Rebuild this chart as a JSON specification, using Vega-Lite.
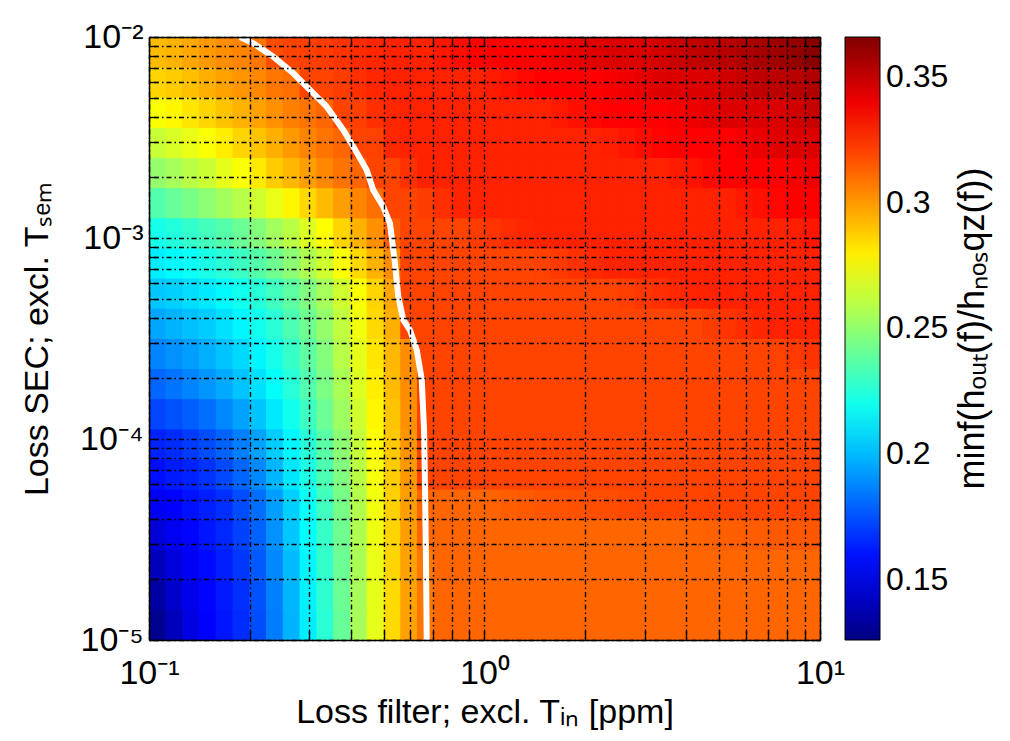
{
"$schema":"https://vega.github.io/schema/vega-lite/v6.json",
"width":671,"height":603,
"autosize":{"type":"none"},
"padding":{"left":149,"top":37,"right":190,"bottom":101},
"background":"white",
"config":{
"font":"Liberation Sans",
"view":{"stroke":null},
"axis":{"labelFont":"Liberation Sans","titleFont":"Liberation Sans","labelFontSize":34,"titleFontSize":34,"titleFontWeight":"normal","labelColor":"black","titleColor":"black","domainColor":"black","domainWidth":1.5,"tickColor":"black","tickWidth":1.3,"gridColor":"black","gridOpacity":1,"labelOverlap":false,"labelFlush":false,"labelBound":false}
},
"layer":[
{
"data":{"values":[
{"x":0.1059,"y":1.189e-5,"v":0.13},{"x":0.1189,"y":1.189e-5,"v":0.14},{"x":0.1334,"y":1.189e-5,"v":0.149},{"x":0.1496,"y":1.189e-5,"v":0.156},{"x":0.1679,"y":1.189e-5,"v":0.161},{"x":0.1884,"y":1.189e-5,"v":0.166},{"x":0.2113,"y":1.189e-5,"v":0.174},{"x":0.2371,"y":1.189e-5,"v":0.185},{"x":0.2661,"y":1.189e-5,"v":0.198},{"x":0.2985,"y":1.189e-5,"v":0.212},{"x":0.335,"y":1.189e-5,"v":0.226},{"x":0.3758,"y":1.189e-5,"v":0.24},{"x":0.4217,"y":1.189e-5,"v":0.255},{"x":0.4732,"y":1.189e-5,"v":0.27},{"x":0.5309,"y":1.189e-5,"v":0.285},{"x":0.5957,"y":1.189e-5,"v":0.298},{"x":0.6683,"y":1.189e-5,"v":0.308},{"x":0.7499,"y":1.189e-5,"v":0.312},{"x":0.8414,"y":1.189e-5,"v":0.312},{"x":0.9441,"y":1.189e-5,"v":0.312},{"x":1.059,"y":1.189e-5,"v":0.312},{"x":1.189,"y":1.189e-5,"v":0.312},{"x":1.334,"y":1.189e-5,"v":0.312},{"x":1.496,"y":1.189e-5,"v":0.312},{"x":1.679,"y":1.189e-5,"v":0.312},{"x":1.884,"y":1.189e-5,"v":0.312},{"x":2.113,"y":1.189e-5,"v":0.312},{"x":2.371,"y":1.189e-5,"v":0.312},{"x":2.661,"y":1.189e-5,"v":0.312},{"x":2.985,"y":1.189e-5,"v":0.312},{"x":3.35,"y":1.189e-5,"v":0.312},{"x":3.758,"y":1.189e-5,"v":0.312},{"x":4.217,"y":1.189e-5,"v":0.312},{"x":4.732,"y":1.189e-5,"v":0.312},{"x":5.309,"y":1.189e-5,"v":0.312},{"x":5.957,"y":1.189e-5,"v":0.312},{"x":6.683,"y":1.189e-5,"v":0.312},{"x":7.499,"y":1.189e-5,"v":0.312},{"x":8.414,"y":1.189e-5,"v":0.312},{"x":9.441,"y":1.189e-5,"v":0.312},
{"x":0.1059,"y":1.679e-5,"v":0.134},{"x":0.1189,"y":1.679e-5,"v":0.144},{"x":0.1334,"y":1.679e-5,"v":0.151},{"x":0.1496,"y":1.679e-5,"v":0.157},{"x":0.1679,"y":1.679e-5,"v":0.162},{"x":0.1884,"y":1.679e-5,"v":0.167},{"x":0.2113,"y":1.679e-5,"v":0.175},{"x":0.2371,"y":1.679e-5,"v":0.186},{"x":0.2661,"y":1.679e-5,"v":0.199},{"x":0.2985,"y":1.679e-5,"v":0.213},{"x":0.335,"y":1.679e-5,"v":0.227},{"x":0.3758,"y":1.679e-5,"v":0.241},{"x":0.4217,"y":1.679e-5,"v":0.255},{"x":0.4732,"y":1.679e-5,"v":0.27},{"x":0.5309,"y":1.679e-5,"v":0.285},{"x":0.5957,"y":1.679e-5,"v":0.298},{"x":0.6683,"y":1.679e-5,"v":0.308},{"x":0.7499,"y":1.679e-5,"v":0.312},{"x":0.8414,"y":1.679e-5,"v":0.312},{"x":0.9441,"y":1.679e-5,"v":0.312},{"x":1.059,"y":1.679e-5,"v":0.312},{"x":1.189,"y":1.679e-5,"v":0.312},{"x":1.334,"y":1.679e-5,"v":0.312},{"x":1.496,"y":1.679e-5,"v":0.312},{"x":1.679,"y":1.679e-5,"v":0.312},{"x":1.884,"y":1.679e-5,"v":0.312},{"x":2.113,"y":1.679e-5,"v":0.312},{"x":2.371,"y":1.679e-5,"v":0.312},{"x":2.661,"y":1.679e-5,"v":0.312},{"x":2.985,"y":1.679e-5,"v":0.312},{"x":3.35,"y":1.679e-5,"v":0.312},{"x":3.758,"y":1.679e-5,"v":0.312},{"x":4.217,"y":1.679e-5,"v":0.312},{"x":4.732,"y":1.679e-5,"v":0.312},{"x":5.309,"y":1.679e-5,"v":0.312},{"x":5.957,"y":1.679e-5,"v":0.312},{"x":6.683,"y":1.679e-5,"v":0.312},{"x":7.499,"y":1.679e-5,"v":0.312},{"x":8.414,"y":1.679e-5,"v":0.312},{"x":9.441,"y":1.679e-5,"v":0.312},
{"x":0.1059,"y":2.371e-5,"v":0.14},{"x":0.1189,"y":2.371e-5,"v":0.148},{"x":0.1334,"y":2.371e-5,"v":0.154},{"x":0.1496,"y":2.371e-5,"v":0.158},{"x":0.1679,"y":2.371e-5,"v":0.163},{"x":0.1884,"y":2.371e-5,"v":0.169},{"x":0.2113,"y":2.371e-5,"v":0.177},{"x":0.2371,"y":2.371e-5,"v":0.188},{"x":0.2661,"y":2.371e-5,"v":0.2},{"x":0.2985,"y":2.371e-5,"v":0.214},{"x":0.335,"y":2.371e-5,"v":0.228},{"x":0.3758,"y":2.371e-5,"v":0.241},{"x":0.4217,"y":2.371e-5,"v":0.256},{"x":0.4732,"y":2.371e-5,"v":0.271},{"x":0.5309,"y":2.371e-5,"v":0.286},{"x":0.5957,"y":2.371e-5,"v":0.298},{"x":0.6683,"y":2.371e-5,"v":0.308},{"x":0.7499,"y":2.371e-5,"v":0.312},{"x":0.8414,"y":2.371e-5,"v":0.312},{"x":0.9441,"y":2.371e-5,"v":0.312},{"x":1.059,"y":2.371e-5,"v":0.312},{"x":1.189,"y":2.371e-5,"v":0.312},{"x":1.334,"y":2.371e-5,"v":0.312},{"x":1.496,"y":2.371e-5,"v":0.312},{"x":1.679,"y":2.371e-5,"v":0.312},{"x":1.884,"y":2.371e-5,"v":0.312},{"x":2.113,"y":2.371e-5,"v":0.312},{"x":2.371,"y":2.371e-5,"v":0.312},{"x":2.661,"y":2.371e-5,"v":0.312},{"x":2.985,"y":2.371e-5,"v":0.312},{"x":3.35,"y":2.371e-5,"v":0.312},{"x":3.758,"y":2.371e-5,"v":0.312},{"x":4.217,"y":2.371e-5,"v":0.312},{"x":4.732,"y":2.371e-5,"v":0.312},{"x":5.309,"y":2.371e-5,"v":0.312},{"x":5.957,"y":2.371e-5,"v":0.312},{"x":6.683,"y":2.371e-5,"v":0.312},{"x":7.499,"y":2.371e-5,"v":0.312},{"x":8.414,"y":2.371e-5,"v":0.312},{"x":9.441,"y":2.371e-5,"v":0.312},
{"x":0.1059,"y":3.35e-5,"v":0.147},{"x":0.1189,"y":3.35e-5,"v":0.153},{"x":0.1334,"y":3.35e-5,"v":0.157},{"x":0.1496,"y":3.35e-5,"v":0.161},{"x":0.1679,"y":3.35e-5,"v":0.165},{"x":0.1884,"y":3.35e-5,"v":0.171},{"x":0.2113,"y":3.35e-5,"v":0.179},{"x":0.2371,"y":3.35e-5,"v":0.19},{"x":0.2661,"y":3.35e-5,"v":0.203},{"x":0.2985,"y":3.35e-5,"v":0.216},{"x":0.335,"y":3.35e-5,"v":0.229},{"x":0.3758,"y":3.35e-5,"v":0.242},{"x":0.4217,"y":3.35e-5,"v":0.257},{"x":0.4732,"y":3.35e-5,"v":0.272},{"x":0.5309,"y":3.35e-5,"v":0.286},{"x":0.5957,"y":3.35e-5,"v":0.299},{"x":0.6683,"y":3.35e-5,"v":0.312},{"x":0.7499,"y":3.35e-5,"v":0.312},{"x":0.8414,"y":3.35e-5,"v":0.312},{"x":0.9441,"y":3.35e-5,"v":0.312},{"x":1.059,"y":3.35e-5,"v":0.312},{"x":1.189,"y":3.35e-5,"v":0.312},{"x":1.334,"y":3.35e-5,"v":0.312},{"x":1.496,"y":3.35e-5,"v":0.312},{"x":1.679,"y":3.35e-5,"v":0.312},{"x":1.884,"y":3.35e-5,"v":0.312},{"x":2.113,"y":3.35e-5,"v":0.312},{"x":2.371,"y":3.35e-5,"v":0.312},{"x":2.661,"y":3.35e-5,"v":0.312},{"x":2.985,"y":3.35e-5,"v":0.312},{"x":3.35,"y":3.35e-5,"v":0.312},{"x":3.758,"y":3.35e-5,"v":0.3124},{"x":4.217,"y":3.35e-5,"v":0.3128},{"x":4.732,"y":3.35e-5,"v":0.3132},{"x":5.309,"y":3.35e-5,"v":0.3137},{"x":5.957,"y":3.35e-5,"v":0.3141},{"x":6.683,"y":3.35e-5,"v":0.3145},{"x":7.499,"y":3.35e-5,"v":0.3151},{"x":8.414,"y":3.35e-5,"v":0.3153},{"x":9.441,"y":3.35e-5,"v":0.3159},
{"x":0.1059,"y":4.732e-5,"v":0.153},{"x":0.1189,"y":4.732e-5,"v":0.156},{"x":0.1334,"y":4.732e-5,"v":0.16},{"x":0.1496,"y":4.732e-5,"v":0.163},{"x":0.1679,"y":4.732e-5,"v":0.167},{"x":0.1884,"y":4.732e-5,"v":0.174},{"x":0.2113,"y":4.732e-5,"v":0.182},{"x":0.2371,"y":4.732e-5,"v":0.193},{"x":0.2661,"y":4.732e-5,"v":0.205},{"x":0.2985,"y":4.732e-5,"v":0.218},{"x":0.335,"y":4.732e-5,"v":0.231},{"x":0.3758,"y":4.732e-5,"v":0.244},{"x":0.4217,"y":4.732e-5,"v":0.258},{"x":0.4732,"y":4.732e-5,"v":0.273},{"x":0.5309,"y":4.732e-5,"v":0.287},{"x":0.5957,"y":4.732e-5,"v":0.299},{"x":0.6683,"y":4.732e-5,"v":0.312},{"x":0.7499,"y":4.732e-5,"v":0.312},{"x":0.8414,"y":4.732e-5,"v":0.312},{"x":0.9441,"y":4.732e-5,"v":0.312},{"x":1.059,"y":4.732e-5,"v":0.313},{"x":1.189,"y":4.732e-5,"v":0.314},{"x":1.334,"y":4.732e-5,"v":0.315},{"x":1.496,"y":4.732e-5,"v":0.316},{"x":1.679,"y":4.732e-5,"v":0.3165},{"x":1.884,"y":4.732e-5,"v":0.317},{"x":2.113,"y":4.732e-5,"v":0.3177},{"x":2.371,"y":4.732e-5,"v":0.318},{"x":2.661,"y":4.732e-5,"v":0.319},{"x":2.985,"y":4.732e-5,"v":0.3194},{"x":3.35,"y":4.732e-5,"v":0.32},{"x":3.758,"y":4.732e-5,"v":0.32},{"x":4.217,"y":4.732e-5,"v":0.32},{"x":4.732,"y":4.732e-5,"v":0.32},{"x":5.309,"y":4.732e-5,"v":0.32},{"x":5.957,"y":4.732e-5,"v":0.32},{"x":6.683,"y":4.732e-5,"v":0.32},{"x":7.499,"y":4.732e-5,"v":0.32},{"x":8.414,"y":4.732e-5,"v":0.32},{"x":9.441,"y":4.732e-5,"v":0.32},
{"x":0.1059,"y":6.683e-5,"v":0.159},{"x":0.1189,"y":6.683e-5,"v":0.162},{"x":0.1334,"y":6.683e-5,"v":0.164},{"x":0.1496,"y":6.683e-5,"v":0.168},{"x":0.1679,"y":6.683e-5,"v":0.173},{"x":0.1884,"y":6.683e-5,"v":0.18},{"x":0.2113,"y":6.683e-5,"v":0.188},{"x":0.2371,"y":6.683e-5,"v":0.199},{"x":0.2661,"y":6.683e-5,"v":0.21},{"x":0.2985,"y":6.683e-5,"v":0.222},{"x":0.335,"y":6.683e-5,"v":0.234},{"x":0.3758,"y":6.683e-5,"v":0.246},{"x":0.4217,"y":6.683e-5,"v":0.26},{"x":0.4732,"y":6.683e-5,"v":0.274},{"x":0.5309,"y":6.683e-5,"v":0.288},{"x":0.5957,"y":6.683e-5,"v":0.3},{"x":0.6683,"y":6.683e-5,"v":0.32},{"x":0.7499,"y":6.683e-5,"v":0.32},{"x":0.8414,"y":6.683e-5,"v":0.32},{"x":0.9441,"y":6.683e-5,"v":0.32},{"x":1.059,"y":6.683e-5,"v":0.32},{"x":1.189,"y":6.683e-5,"v":0.32},{"x":1.334,"y":6.683e-5,"v":0.32},{"x":1.496,"y":6.683e-5,"v":0.32},{"x":1.679,"y":6.683e-5,"v":0.32},{"x":1.884,"y":6.683e-5,"v":0.32},{"x":2.113,"y":6.683e-5,"v":0.32},{"x":2.371,"y":6.683e-5,"v":0.32},{"x":2.661,"y":6.683e-5,"v":0.32},{"x":2.985,"y":6.683e-5,"v":0.32},{"x":3.35,"y":6.683e-5,"v":0.32},{"x":3.758,"y":6.683e-5,"v":0.32},{"x":4.217,"y":6.683e-5,"v":0.32},{"x":4.732,"y":6.683e-5,"v":0.32},{"x":5.309,"y":6.683e-5,"v":0.32},{"x":5.957,"y":6.683e-5,"v":0.32},{"x":6.683,"y":6.683e-5,"v":0.32},{"x":7.499,"y":6.683e-5,"v":0.32},{"x":8.414,"y":6.683e-5,"v":0.32},{"x":9.441,"y":6.683e-5,"v":0.32},
{"x":0.1059,"y":9.441e-5,"v":0.164},{"x":0.1189,"y":9.441e-5,"v":0.166},{"x":0.1334,"y":9.441e-5,"v":0.17},{"x":0.1496,"y":9.441e-5,"v":0.174},{"x":0.1679,"y":9.441e-5,"v":0.179},{"x":0.1884,"y":9.441e-5,"v":0.186},{"x":0.2113,"y":9.441e-5,"v":0.194},{"x":0.2371,"y":9.441e-5,"v":0.204},{"x":0.2661,"y":9.441e-5,"v":0.214},{"x":0.2985,"y":9.441e-5,"v":0.225},{"x":0.335,"y":9.441e-5,"v":0.237},{"x":0.3758,"y":9.441e-5,"v":0.249},{"x":0.4217,"y":9.441e-5,"v":0.262},{"x":0.4732,"y":9.441e-5,"v":0.276},{"x":0.5309,"y":9.441e-5,"v":0.289},{"x":0.5957,"y":9.441e-5,"v":0.301},{"x":0.6683,"y":9.441e-5,"v":0.32},{"x":0.7499,"y":9.441e-5,"v":0.32},{"x":0.8414,"y":9.441e-5,"v":0.32},{"x":0.9441,"y":9.441e-5,"v":0.32},{"x":1.059,"y":9.441e-5,"v":0.32},{"x":1.189,"y":9.441e-5,"v":0.32},{"x":1.334,"y":9.441e-5,"v":0.32},{"x":1.496,"y":9.441e-5,"v":0.32},{"x":1.679,"y":9.441e-5,"v":0.32},{"x":1.884,"y":9.441e-5,"v":0.32},{"x":2.113,"y":9.441e-5,"v":0.32},{"x":2.371,"y":9.441e-5,"v":0.32},{"x":2.661,"y":9.441e-5,"v":0.32},{"x":2.985,"y":9.441e-5,"v":0.32},{"x":3.35,"y":9.441e-5,"v":0.32},{"x":3.758,"y":9.441e-5,"v":0.32},{"x":4.217,"y":9.441e-5,"v":0.32},{"x":4.732,"y":9.441e-5,"v":0.32},{"x":5.309,"y":9.441e-5,"v":0.32},{"x":5.957,"y":9.441e-5,"v":0.32},{"x":6.683,"y":9.441e-5,"v":0.32},{"x":7.499,"y":9.441e-5,"v":0.32},{"x":8.414,"y":9.441e-5,"v":0.32},{"x":9.441,"y":9.441e-5,"v":0.32},
{"x":0.1059,"y":0.0001334,"v":0.172},{"x":0.1189,"y":0.0001334,"v":0.175},{"x":0.1334,"y":0.0001334,"v":0.178},{"x":0.1496,"y":0.0001334,"v":0.182},{"x":0.1679,"y":0.0001334,"v":0.188},{"x":0.1884,"y":0.0001334,"v":0.194},{"x":0.2113,"y":0.0001334,"v":0.202},{"x":0.2371,"y":0.0001334,"v":0.211},{"x":0.2661,"y":0.0001334,"v":0.22},{"x":0.2985,"y":0.0001334,"v":0.23},{"x":0.335,"y":0.0001334,"v":0.241},{"x":0.3758,"y":0.0001334,"v":0.253},{"x":0.4217,"y":0.0001334,"v":0.265},{"x":0.4732,"y":0.0001334,"v":0.278},{"x":0.5309,"y":0.0001334,"v":0.29},{"x":0.5957,"y":0.0001334,"v":0.302},{"x":0.6683,"y":0.0001334,"v":0.32},{"x":0.7499,"y":0.0001334,"v":0.32},{"x":0.8414,"y":0.0001334,"v":0.32},{"x":0.9441,"y":0.0001334,"v":0.32},{"x":1.059,"y":0.0001334,"v":0.32},{"x":1.189,"y":0.0001334,"v":0.32},{"x":1.334,"y":0.0001334,"v":0.32},{"x":1.496,"y":0.0001334,"v":0.32},{"x":1.679,"y":0.0001334,"v":0.32},{"x":1.884,"y":0.0001334,"v":0.32},{"x":2.113,"y":0.0001334,"v":0.32},{"x":2.371,"y":0.0001334,"v":0.32},{"x":2.661,"y":0.0001334,"v":0.32},{"x":2.985,"y":0.0001334,"v":0.32},{"x":3.35,"y":0.0001334,"v":0.32},{"x":3.758,"y":0.0001334,"v":0.32},{"x":4.217,"y":0.0001334,"v":0.32},{"x":4.732,"y":0.0001334,"v":0.32},{"x":5.309,"y":0.0001334,"v":0.32},{"x":5.957,"y":0.0001334,"v":0.32},{"x":6.683,"y":0.0001334,"v":0.32},{"x":7.499,"y":0.0001334,"v":0.32},{"x":8.414,"y":0.0001334,"v":0.32},{"x":9.441,"y":0.0001334,"v":0.32},
{"x":0.1059,"y":0.0001884,"v":0.18},{"x":0.1189,"y":0.0001884,"v":0.183},{"x":0.1334,"y":0.0001884,"v":0.187},{"x":0.1496,"y":0.0001884,"v":0.191},{"x":0.1679,"y":0.0001884,"v":0.196},{"x":0.1884,"y":0.0001884,"v":0.202},{"x":0.2113,"y":0.0001884,"v":0.209},{"x":0.2371,"y":0.0001884,"v":0.217},{"x":0.2661,"y":0.0001884,"v":0.225},{"x":0.2985,"y":0.0001884,"v":0.235},{"x":0.335,"y":0.0001884,"v":0.245},{"x":0.3758,"y":0.0001884,"v":0.256},{"x":0.4217,"y":0.0001884,"v":0.268},{"x":0.4732,"y":0.0001884,"v":0.28},{"x":0.5309,"y":0.0001884,"v":0.292},{"x":0.5957,"y":0.0001884,"v":0.303},{"x":0.6683,"y":0.0001884,"v":0.32},{"x":0.7499,"y":0.0001884,"v":0.32},{"x":0.8414,"y":0.0001884,"v":0.32},{"x":0.9441,"y":0.0001884,"v":0.32},{"x":1.059,"y":0.0001884,"v":0.32},{"x":1.189,"y":0.0001884,"v":0.32},{"x":1.334,"y":0.0001884,"v":0.32},{"x":1.496,"y":0.0001884,"v":0.32},{"x":1.679,"y":0.0001884,"v":0.32},{"x":1.884,"y":0.0001884,"v":0.32},{"x":2.113,"y":0.0001884,"v":0.32},{"x":2.371,"y":0.0001884,"v":0.32},{"x":2.661,"y":0.0001884,"v":0.32},{"x":2.985,"y":0.0001884,"v":0.32},{"x":3.35,"y":0.0001884,"v":0.32},{"x":3.758,"y":0.0001884,"v":0.32},{"x":4.217,"y":0.0001884,"v":0.32},{"x":4.732,"y":0.0001884,"v":0.32},{"x":5.309,"y":0.0001884,"v":0.32},{"x":5.957,"y":0.0001884,"v":0.32},{"x":6.683,"y":0.0001884,"v":0.32},{"x":7.499,"y":0.0001884,"v":0.32},{"x":8.414,"y":0.0001884,"v":0.32},{"x":9.441,"y":0.0001884,"v":0.32},
{"x":0.1059,"y":0.0002661,"v":0.187},{"x":0.1189,"y":0.0002661,"v":0.19},{"x":0.1334,"y":0.0002661,"v":0.193},{"x":0.1496,"y":0.0002661,"v":0.197},{"x":0.1679,"y":0.0002661,"v":0.202},{"x":0.1884,"y":0.0002661,"v":0.207},{"x":0.2113,"y":0.0002661,"v":0.214},{"x":0.2371,"y":0.0002661,"v":0.221},{"x":0.2661,"y":0.0002661,"v":0.229},{"x":0.2985,"y":0.0002661,"v":0.238},{"x":0.335,"y":0.0002661,"v":0.247},{"x":0.3758,"y":0.0002661,"v":0.259},{"x":0.4217,"y":0.0002661,"v":0.27},{"x":0.4732,"y":0.0002661,"v":0.282},{"x":0.5309,"y":0.0002661,"v":0.293},{"x":0.5957,"y":0.0002661,"v":0.303},{"x":0.6683,"y":0.0002661,"v":0.32},{"x":0.7499,"y":0.0002661,"v":0.32},{"x":0.8414,"y":0.0002661,"v":0.32},{"x":0.9441,"y":0.0002661,"v":0.32},{"x":1.059,"y":0.0002661,"v":0.32},{"x":1.189,"y":0.0002661,"v":0.32},{"x":1.334,"y":0.0002661,"v":0.32},{"x":1.496,"y":0.0002661,"v":0.32},{"x":1.679,"y":0.0002661,"v":0.32},{"x":1.884,"y":0.0002661,"v":0.32},{"x":2.113,"y":0.0002661,"v":0.32},{"x":2.371,"y":0.0002661,"v":0.32},{"x":2.661,"y":0.0002661,"v":0.32},{"x":2.985,"y":0.0002661,"v":0.32},{"x":3.35,"y":0.0002661,"v":0.32},{"x":3.758,"y":0.0002661,"v":0.32},{"x":4.217,"y":0.0002661,"v":0.32},{"x":4.732,"y":0.0002661,"v":0.32},{"x":5.309,"y":0.0002661,"v":0.32},{"x":5.957,"y":0.0002661,"v":0.32},{"x":6.683,"y":0.0002661,"v":0.32},{"x":7.499,"y":0.0002661,"v":0.3208},{"x":8.414,"y":0.0002661,"v":0.3224},{"x":9.441,"y":0.0002661,"v":0.3241},
{"x":0.1059,"y":0.0003758,"v":0.195},{"x":0.1189,"y":0.0003758,"v":0.198},{"x":0.1334,"y":0.0003758,"v":0.201},{"x":0.1496,"y":0.0003758,"v":0.204},{"x":0.1679,"y":0.0003758,"v":0.209},{"x":0.1884,"y":0.0003758,"v":0.214},{"x":0.2113,"y":0.0003758,"v":0.22},{"x":0.2371,"y":0.0003758,"v":0.226},{"x":0.2661,"y":0.0003758,"v":0.234},{"x":0.2985,"y":0.0003758,"v":0.242},{"x":0.335,"y":0.0003758,"v":0.251},{"x":0.3758,"y":0.0003758,"v":0.261},{"x":0.4217,"y":0.0003758,"v":0.273},{"x":0.4732,"y":0.0003758,"v":0.285},{"x":0.5309,"y":0.0003758,"v":0.295},{"x":0.5957,"y":0.0003758,"v":0.32},{"x":0.6683,"y":0.0003758,"v":0.32},{"x":0.7499,"y":0.0003758,"v":0.32},{"x":0.8414,"y":0.0003758,"v":0.32},{"x":0.9441,"y":0.0003758,"v":0.32},{"x":1.059,"y":0.0003758,"v":0.32},{"x":1.189,"y":0.0003758,"v":0.32},{"x":1.334,"y":0.0003758,"v":0.32},{"x":1.496,"y":0.0003758,"v":0.32},{"x":1.679,"y":0.0003758,"v":0.32},{"x":1.884,"y":0.0003758,"v":0.32},{"x":2.113,"y":0.0003758,"v":0.32},{"x":2.371,"y":0.0003758,"v":0.32},{"x":2.661,"y":0.0003758,"v":0.32},{"x":2.985,"y":0.0003758,"v":0.32},{"x":3.35,"y":0.0003758,"v":0.32},{"x":3.758,"y":0.0003758,"v":0.32},{"x":4.217,"y":0.0003758,"v":0.3204},{"x":4.732,"y":0.0003758,"v":0.322},{"x":5.309,"y":0.0003758,"v":0.3238},{"x":5.957,"y":0.0003758,"v":0.3255},{"x":6.683,"y":0.0003758,"v":0.3271},{"x":7.499,"y":0.0003758,"v":0.328},{"x":8.414,"y":0.0003758,"v":0.328},{"x":9.441,"y":0.0003758,"v":0.328},
{"x":0.1059,"y":0.0005309,"v":0.203},{"x":0.1189,"y":0.0005309,"v":0.205},{"x":0.1334,"y":0.0005309,"v":0.208},{"x":0.1496,"y":0.0005309,"v":0.211},{"x":0.1679,"y":0.0005309,"v":0.215},{"x":0.1884,"y":0.0005309,"v":0.22},{"x":0.2113,"y":0.0005309,"v":0.225},{"x":0.2371,"y":0.0005309,"v":0.231},{"x":0.2661,"y":0.0005309,"v":0.238},{"x":0.2985,"y":0.0005309,"v":0.246},{"x":0.335,"y":0.0005309,"v":0.255},{"x":0.3758,"y":0.0005309,"v":0.265},{"x":0.4217,"y":0.0005309,"v":0.275},{"x":0.4732,"y":0.0005309,"v":0.286},{"x":0.5309,"y":0.0005309,"v":0.297},{"x":0.5957,"y":0.0005309,"v":0.32},{"x":0.6683,"y":0.0005309,"v":0.32},{"x":0.7499,"y":0.0005309,"v":0.32},{"x":0.8414,"y":0.0005309,"v":0.32},{"x":0.9441,"y":0.0005309,"v":0.32},{"x":1.059,"y":0.0005309,"v":0.32},{"x":1.189,"y":0.0005309,"v":0.32},{"x":1.334,"y":0.0005309,"v":0.32},{"x":1.496,"y":0.0005309,"v":0.32},{"x":1.679,"y":0.0005309,"v":0.32},{"x":1.884,"y":0.0005309,"v":0.32},{"x":2.113,"y":0.0005309,"v":0.32},{"x":2.371,"y":0.0005309,"v":0.32},{"x":2.661,"y":0.0005309,"v":0.3215},{"x":2.985,"y":0.0005309,"v":0.3233},{"x":3.35,"y":0.0005309,"v":0.325},{"x":3.758,"y":0.0005309,"v":0.3267},{"x":4.217,"y":0.0005309,"v":0.328},{"x":4.732,"y":0.0005309,"v":0.328},{"x":5.309,"y":0.0005309,"v":0.328},{"x":5.957,"y":0.0005309,"v":0.328},{"x":6.683,"y":0.0005309,"v":0.328},{"x":7.499,"y":0.0005309,"v":0.328},{"x":8.414,"y":0.0005309,"v":0.328},{"x":9.441,"y":0.0005309,"v":0.328},
{"x":0.1059,"y":0.0007499,"v":0.212},{"x":0.1189,"y":0.0007499,"v":0.215},{"x":0.1334,"y":0.0007499,"v":0.218},{"x":0.1496,"y":0.0007499,"v":0.222},{"x":0.1679,"y":0.0007499,"v":0.226},{"x":0.1884,"y":0.0007499,"v":0.23},{"x":0.2113,"y":0.0007499,"v":0.236},{"x":0.2371,"y":0.0007499,"v":0.242},{"x":0.2661,"y":0.0007499,"v":0.249},{"x":0.2985,"y":0.0007499,"v":0.257},{"x":0.335,"y":0.0007499,"v":0.265},{"x":0.3758,"y":0.0007499,"v":0.275},{"x":0.4217,"y":0.0007499,"v":0.285},{"x":0.4732,"y":0.0007499,"v":0.294},{"x":0.5309,"y":0.0007499,"v":0.303},{"x":0.5957,"y":0.0007499,"v":0.32},{"x":0.6683,"y":0.0007499,"v":0.32},{"x":0.7499,"y":0.0007499,"v":0.32},{"x":0.8414,"y":0.0007499,"v":0.32},{"x":0.9441,"y":0.0007499,"v":0.32},{"x":1.059,"y":0.0007499,"v":0.32},{"x":1.189,"y":0.0007499,"v":0.32},{"x":1.334,"y":0.0007499,"v":0.32},{"x":1.496,"y":0.0007499,"v":0.3209},{"x":1.679,"y":0.0007499,"v":0.3226},{"x":1.884,"y":0.0007499,"v":0.3244},{"x":2.113,"y":0.0007499,"v":0.3261},{"x":2.371,"y":0.0007499,"v":0.3278},{"x":2.661,"y":0.0007499,"v":0.328},{"x":2.985,"y":0.0007499,"v":0.328},{"x":3.35,"y":0.0007499,"v":0.328},{"x":3.758,"y":0.0007499,"v":0.328},{"x":4.217,"y":0.0007499,"v":0.328},{"x":4.732,"y":0.0007499,"v":0.328},{"x":5.309,"y":0.0007499,"v":0.328},{"x":5.957,"y":0.0007499,"v":0.328},{"x":6.683,"y":0.0007499,"v":0.328},{"x":7.499,"y":0.0007499,"v":0.328},{"x":8.414,"y":0.0007499,"v":0.328},{"x":9.441,"y":0.0007499,"v":0.328},
{"x":0.1059,"y":0.001059,"v":0.221},{"x":0.1189,"y":0.001059,"v":0.224},{"x":0.1334,"y":0.001059,"v":0.228},{"x":0.1496,"y":0.001059,"v":0.232},{"x":0.1679,"y":0.001059,"v":0.236},{"x":0.1884,"y":0.001059,"v":0.241},{"x":0.2113,"y":0.001059,"v":0.247},{"x":0.2371,"y":0.001059,"v":0.254},{"x":0.2661,"y":0.001059,"v":0.26},{"x":0.2985,"y":0.001059,"v":0.268},{"x":0.335,"y":0.001059,"v":0.276},{"x":0.3758,"y":0.001059,"v":0.286},{"x":0.4217,"y":0.001059,"v":0.294},{"x":0.4732,"y":0.001059,"v":0.302},{"x":0.5309,"y":0.001059,"v":0.314},{"x":0.5957,"y":0.001059,"v":0.32},{"x":0.6683,"y":0.001059,"v":0.32},{"x":0.7499,"y":0.001059,"v":0.32},{"x":0.8414,"y":0.001059,"v":0.32},{"x":0.9441,"y":0.001059,"v":0.3219},{"x":1.059,"y":0.001059,"v":0.3237},{"x":1.189,"y":0.001059,"v":0.3256},{"x":1.334,"y":0.001059,"v":0.3272},{"x":1.496,"y":0.001059,"v":0.328},{"x":1.679,"y":0.001059,"v":0.328},{"x":1.884,"y":0.001059,"v":0.328},{"x":2.113,"y":0.001059,"v":0.328},{"x":2.371,"y":0.001059,"v":0.328},{"x":2.661,"y":0.001059,"v":0.328},{"x":2.985,"y":0.001059,"v":0.328},{"x":3.35,"y":0.001059,"v":0.328},{"x":3.758,"y":0.001059,"v":0.328},{"x":4.217,"y":0.001059,"v":0.328},{"x":4.732,"y":0.001059,"v":0.328},{"x":5.309,"y":0.001059,"v":0.328},{"x":5.957,"y":0.001059,"v":0.328},{"x":6.683,"y":0.001059,"v":0.328},{"x":7.499,"y":0.001059,"v":0.328},{"x":8.414,"y":0.001059,"v":0.3288},{"x":9.441,"y":0.001059,"v":0.331},
{"x":0.1059,"y":0.001496,"v":0.235},{"x":0.1189,"y":0.001496,"v":0.24},{"x":0.1334,"y":0.001496,"v":0.244},{"x":0.1496,"y":0.001496,"v":0.249},{"x":0.1679,"y":0.001496,"v":0.254},{"x":0.1884,"y":0.001496,"v":0.259},{"x":0.2113,"y":0.001496,"v":0.265},{"x":0.2371,"y":0.001496,"v":0.271},{"x":0.2661,"y":0.001496,"v":0.278},{"x":0.2985,"y":0.001496,"v":0.285},{"x":0.335,"y":0.001496,"v":0.292},{"x":0.3758,"y":0.001496,"v":0.299},{"x":0.4217,"y":0.001496,"v":0.305},{"x":0.4732,"y":0.001496,"v":0.31},{"x":0.5309,"y":0.001496,"v":0.32},{"x":0.5957,"y":0.001496,"v":0.32},{"x":0.6683,"y":0.001496,"v":0.3219},{"x":0.7499,"y":0.001496,"v":0.3251},{"x":0.8414,"y":0.001496,"v":0.3275},{"x":0.9441,"y":0.001496,"v":0.328},{"x":1.059,"y":0.001496,"v":0.328},{"x":1.189,"y":0.001496,"v":0.328},{"x":1.334,"y":0.001496,"v":0.328},{"x":1.496,"y":0.001496,"v":0.328},{"x":1.679,"y":0.001496,"v":0.328},{"x":1.884,"y":0.001496,"v":0.328},{"x":2.113,"y":0.001496,"v":0.328},{"x":2.371,"y":0.001496,"v":0.328},{"x":2.661,"y":0.001496,"v":0.328},{"x":2.985,"y":0.001496,"v":0.328},{"x":3.35,"y":0.001496,"v":0.328},{"x":3.758,"y":0.001496,"v":0.328},{"x":4.217,"y":0.001496,"v":0.328},{"x":4.732,"y":0.001496,"v":0.328},{"x":5.309,"y":0.001496,"v":0.328},{"x":5.957,"y":0.001496,"v":0.3303},{"x":6.683,"y":0.001496,"v":0.3325},{"x":7.499,"y":0.001496,"v":0.3347},{"x":8.414,"y":0.001496,"v":0.336},{"x":9.441,"y":0.001496,"v":0.336},
{"x":0.1059,"y":0.002113,"v":0.251},{"x":0.1189,"y":0.002113,"v":0.255},{"x":0.1334,"y":0.002113,"v":0.26},{"x":0.1496,"y":0.002113,"v":0.264},{"x":0.1679,"y":0.002113,"v":0.27},{"x":0.1884,"y":0.002113,"v":0.275},{"x":0.2113,"y":0.002113,"v":0.281},{"x":0.2371,"y":0.002113,"v":0.288},{"x":0.2661,"y":0.002113,"v":0.293},{"x":0.2985,"y":0.002113,"v":0.299},{"x":0.335,"y":0.002113,"v":0.304},{"x":0.3758,"y":0.002113,"v":0.309},{"x":0.4217,"y":0.002113,"v":0.312},{"x":0.4732,"y":0.002113,"v":0.32},{"x":0.5309,"y":0.002113,"v":0.32},{"x":0.5957,"y":0.002113,"v":0.3244},{"x":0.6683,"y":0.002113,"v":0.328},{"x":0.7499,"y":0.002113,"v":0.328},{"x":0.8414,"y":0.002113,"v":0.328},{"x":0.9441,"y":0.002113,"v":0.328},{"x":1.059,"y":0.002113,"v":0.328},{"x":1.189,"y":0.002113,"v":0.328},{"x":1.334,"y":0.002113,"v":0.328},{"x":1.496,"y":0.002113,"v":0.328},{"x":1.679,"y":0.002113,"v":0.328},{"x":1.884,"y":0.002113,"v":0.328},{"x":2.113,"y":0.002113,"v":0.328},{"x":2.371,"y":0.002113,"v":0.328},{"x":2.661,"y":0.002113,"v":0.328},{"x":2.985,"y":0.002113,"v":0.328},{"x":3.35,"y":0.002113,"v":0.328},{"x":3.758,"y":0.002113,"v":0.3296},{"x":4.217,"y":0.002113,"v":0.3317},{"x":4.732,"y":0.002113,"v":0.3339},{"x":5.309,"y":0.002113,"v":0.336},{"x":5.957,"y":0.002113,"v":0.336},{"x":6.683,"y":0.002113,"v":0.336},{"x":7.499,"y":0.002113,"v":0.336},{"x":8.414,"y":0.002113,"v":0.3373},{"x":9.441,"y":0.002113,"v":0.3395},
{"x":0.1059,"y":0.002985,"v":0.263},{"x":0.1189,"y":0.002985,"v":0.267},{"x":0.1334,"y":0.002985,"v":0.271},{"x":0.1496,"y":0.002985,"v":0.275},{"x":0.1679,"y":0.002985,"v":0.28},{"x":0.1884,"y":0.002985,"v":0.286},{"x":0.2113,"y":0.002985,"v":0.29},{"x":0.2371,"y":0.002985,"v":0.295},{"x":0.2661,"y":0.002985,"v":0.3},{"x":0.2985,"y":0.002985,"v":0.305},{"x":0.335,"y":0.002985,"v":0.309},{"x":0.3758,"y":0.002985,"v":0.312},{"x":0.4217,"y":0.002985,"v":0.32},{"x":0.4732,"y":0.002985,"v":0.3207},{"x":0.5309,"y":0.002985,"v":0.3268},{"x":0.5957,"y":0.002985,"v":0.328},{"x":0.6683,"y":0.002985,"v":0.328},{"x":0.7499,"y":0.002985,"v":0.328},{"x":0.8414,"y":0.002985,"v":0.328},{"x":0.9441,"y":0.002985,"v":0.328},{"x":1.059,"y":0.002985,"v":0.328},{"x":1.189,"y":0.002985,"v":0.328},{"x":1.334,"y":0.002985,"v":0.328},{"x":1.496,"y":0.002985,"v":0.328},{"x":1.679,"y":0.002985,"v":0.328},{"x":1.884,"y":0.002985,"v":0.328},{"x":2.113,"y":0.002985,"v":0.328},{"x":2.371,"y":0.002985,"v":0.3288},{"x":2.661,"y":0.002985,"v":0.331},{"x":2.985,"y":0.002985,"v":0.3332},{"x":3.35,"y":0.002985,"v":0.3354},{"x":3.758,"y":0.002985,"v":0.336},{"x":4.217,"y":0.002985,"v":0.336},{"x":4.732,"y":0.002985,"v":0.336},{"x":5.309,"y":0.002985,"v":0.3364},{"x":5.957,"y":0.002985,"v":0.3386},{"x":6.683,"y":0.002985,"v":0.3408},{"x":7.499,"y":0.002985,"v":0.343},{"x":8.414,"y":0.002985,"v":0.344},{"x":9.441,"y":0.002985,"v":0.344},
{"x":0.1059,"y":0.004217,"v":0.275},{"x":0.1189,"y":0.004217,"v":0.278},{"x":0.1334,"y":0.004217,"v":0.282},{"x":0.1496,"y":0.004217,"v":0.286},{"x":0.1679,"y":0.004217,"v":0.29},{"x":0.1884,"y":0.004217,"v":0.294},{"x":0.2113,"y":0.004217,"v":0.298},{"x":0.2371,"y":0.004217,"v":0.302},{"x":0.2661,"y":0.004217,"v":0.306},{"x":0.2985,"y":0.004217,"v":0.309},{"x":0.335,"y":0.004217,"v":0.312},{"x":0.3758,"y":0.004217,"v":0.32},{"x":0.4217,"y":0.004217,"v":0.321},{"x":0.4732,"y":0.004217,"v":0.325},{"x":0.5309,"y":0.004217,"v":0.327},{"x":0.5957,"y":0.004217,"v":0.328},{"x":0.6683,"y":0.004217,"v":0.328},{"x":0.7499,"y":0.004217,"v":0.328},{"x":0.8414,"y":0.004217,"v":0.328},{"x":0.9441,"y":0.004217,"v":0.328},{"x":1.059,"y":0.004217,"v":0.328},{"x":1.189,"y":0.004217,"v":0.328},{"x":1.334,"y":0.004217,"v":0.328},{"x":1.496,"y":0.004217,"v":0.328},{"x":1.679,"y":0.004217,"v":0.3303},{"x":1.884,"y":0.004217,"v":0.3324},{"x":2.113,"y":0.004217,"v":0.3347},{"x":2.371,"y":0.004217,"v":0.336},{"x":2.661,"y":0.004217,"v":0.336},{"x":2.985,"y":0.004217,"v":0.336},{"x":3.35,"y":0.004217,"v":0.336},{"x":3.758,"y":0.004217,"v":0.3377},{"x":4.217,"y":0.004217,"v":0.3399},{"x":4.732,"y":0.004217,"v":0.3422},{"x":5.309,"y":0.004217,"v":0.344},{"x":5.957,"y":0.004217,"v":0.344},{"x":6.683,"y":0.004217,"v":0.344},{"x":7.499,"y":0.004217,"v":0.3452},{"x":8.414,"y":0.004217,"v":0.3471},{"x":9.441,"y":0.004217,"v":0.3492},
{"x":0.1059,"y":0.005957,"v":0.286},{"x":0.1189,"y":0.005957,"v":0.288},{"x":0.1334,"y":0.005957,"v":0.291},{"x":0.1496,"y":0.005957,"v":0.295},{"x":0.1679,"y":0.005957,"v":0.298},{"x":0.1884,"y":0.005957,"v":0.301},{"x":0.2113,"y":0.005957,"v":0.304},{"x":0.2371,"y":0.005957,"v":0.308},{"x":0.2661,"y":0.005957,"v":0.31},{"x":0.2985,"y":0.005957,"v":0.32},{"x":0.335,"y":0.005957,"v":0.32},{"x":0.3758,"y":0.005957,"v":0.322},{"x":0.4217,"y":0.005957,"v":0.325},{"x":0.4732,"y":0.005957,"v":0.327},{"x":0.5309,"y":0.005957,"v":0.328},{"x":0.5957,"y":0.005957,"v":0.328},{"x":0.6683,"y":0.005957,"v":0.328},{"x":0.7499,"y":0.005957,"v":0.328},{"x":0.8414,"y":0.005957,"v":0.328},{"x":0.9441,"y":0.005957,"v":0.328},{"x":1.059,"y":0.005957,"v":0.3296},{"x":1.189,"y":0.005957,"v":0.3318},{"x":1.334,"y":0.005957,"v":0.334},{"x":1.496,"y":0.005957,"v":0.336},{"x":1.679,"y":0.005957,"v":0.336},{"x":1.884,"y":0.005957,"v":0.336},{"x":2.113,"y":0.005957,"v":0.336},{"x":2.371,"y":0.005957,"v":0.3373},{"x":2.661,"y":0.005957,"v":0.3394},{"x":2.985,"y":0.005957,"v":0.3414},{"x":3.35,"y":0.005957,"v":0.3435},{"x":3.758,"y":0.005957,"v":0.344},{"x":4.217,"y":0.005957,"v":0.344},{"x":4.732,"y":0.005957,"v":0.3449},{"x":5.309,"y":0.005957,"v":0.3471},{"x":5.957,"y":0.005957,"v":0.3494},{"x":6.683,"y":0.005957,"v":0.3514},{"x":7.499,"y":0.005957,"v":0.352},{"x":8.414,"y":0.005957,"v":0.3526},{"x":9.441,"y":0.005957,"v":0.3545},
{"x":0.1059,"y":0.008414,"v":0.292},{"x":0.1189,"y":0.008414,"v":0.294},{"x":0.1334,"y":0.008414,"v":0.297},{"x":0.1496,"y":0.008414,"v":0.3},{"x":0.1679,"y":0.008414,"v":0.303},{"x":0.1884,"y":0.008414,"v":0.305},{"x":0.2113,"y":0.008414,"v":0.308},{"x":0.2371,"y":0.008414,"v":0.318},{"x":0.2661,"y":0.008414,"v":0.32},{"x":0.2985,"y":0.008414,"v":0.321},{"x":0.335,"y":0.008414,"v":0.322},{"x":0.3758,"y":0.008414,"v":0.324},{"x":0.4217,"y":0.008414,"v":0.326},{"x":0.4732,"y":0.008414,"v":0.327},{"x":0.5309,"y":0.008414,"v":0.328},{"x":0.5957,"y":0.008414,"v":0.328},{"x":0.6683,"y":0.008414,"v":0.328},{"x":0.7499,"y":0.008414,"v":0.3306},{"x":0.8414,"y":0.008414,"v":0.333},{"x":0.9441,"y":0.008414,"v":0.3354},{"x":1.059,"y":0.008414,"v":0.336},{"x":1.189,"y":0.008414,"v":0.336},{"x":1.334,"y":0.008414,"v":0.336},{"x":1.496,"y":0.008414,"v":0.3372},{"x":1.679,"y":0.008414,"v":0.3393},{"x":1.884,"y":0.008414,"v":0.3413},{"x":2.113,"y":0.008414,"v":0.3434},{"x":2.371,"y":0.008414,"v":0.344},{"x":2.661,"y":0.008414,"v":0.344},{"x":2.985,"y":0.008414,"v":0.3442},{"x":3.35,"y":0.008414,"v":0.3462},{"x":3.758,"y":0.008414,"v":0.3485},{"x":4.217,"y":0.008414,"v":0.3507},{"x":4.732,"y":0.008414,"v":0.352},{"x":5.309,"y":0.008414,"v":0.3525},{"x":5.957,"y":0.008414,"v":0.3548},{"x":6.683,"y":0.008414,"v":0.3568},{"x":7.499,"y":0.008414,"v":0.359},{"x":8.414,"y":0.008414,"v":0.361},{"x":9.441,"y":0.008414,"v":0.364}
]},
"mark":{"type":"rect","width":17.6,"height":31,"clip":true},
"encoding":{
"x":{"field":"x","type":"quantitative","scale":{"type":"log","domain":[0.1,10]},
 "axis":{"orient":"bottom","zindex":1,"values":[0.1,0.2,0.3,0.4,0.5,0.6,0.7,0.8,0.9,1,2,3,4,5,6,7,8,9,10],
  "labelExpr":"datum.value === 0.1 ? '10⁻¹' : datum.value === 1 ? '10⁰' : datum.value === 10 ? '10¹' : ''",
  "labelFontSize":34,"grid":true,"gridDash":[1.5,3,5,3],"gridColor":"black","gridWidth":1.4,
  "tickSize":-9,"labelPadding":25,"title":"Loss filter; excl. Tᵢₙ [ppm]","titleFontSize":34,"titleY":82,"titleBaseline":"alphabetic"}},
"y":{"field":"y","type":"quantitative","scale":{"type":"log","domain":[0.00001,0.01]},
 "axis":{"orient":"left","zindex":1,"values":[0.00001,0.00002,0.00003,0.00004,0.00005,0.00006,0.00007,0.00008,0.00009,0.0001,0.0002,0.0003,0.0004,0.0005,0.0006,0.0007,0.0008,0.0009,0.001,0.002,0.003,0.004,0.005,0.006,0.007,0.008,0.009,0.01],
  "labelExpr":"datum.value === 0.00001 ? '10⁻⁵' : datum.value === 0.0001 ? '10⁻⁴' : datum.value === 0.001 ? '10⁻³' : datum.value === 0.01 ? '10⁻²' : ''",
  "labelFontSize":34,"grid":true,"gridDash":[1.5,3,5,3],"gridColor":"black","gridWidth":1.4,
  "tickSize":-9,"labelPadding":15,"title":"Loss SEC; excl. Tₛₑₘ","titleFontSize":34,"titleX":-102,"titleBaseline":"alphabetic"}},
"color":{"field":"v","type":"quantitative",
 "scale":{"domain":[0.126,0.366],"range":["#000080","#0000ff","#0080ff","#00ffff","#80ff80","#ffff00","#ff8000","#ff0000","#800000"],"interpolate":"rgb"},
 "legend":{"orient":"none","legendX":696,"legendY":0,"direction":"vertical","gradientLength":603,"gradientThickness":35,"gradientStrokeColor":"black","gradientStrokeWidth":1,
  "values":[0.15,0.2,0.25,0.3,0.35],"format":".2~f","labelFontSize":32,"labelFont":"Liberation Sans","labelColor":"black","labelOffset":6,"labelOverlap":false,"title":null}}
}
},
{
"data":{"values":[
{"x":0.1867,"y":0.01},{"x":0.2046,"y":0.0093},{"x":0.2347,"y":0.00798},{"x":0.2692,"y":0.0066},{"x":0.2951,"y":0.00566},{"x":0.3386,"y":0.0045},{"x":0.3794,"y":0.00345},{"x":0.4063,"y":0.00285},{"x":0.4455,"y":0.00218},{"x":0.4662,"y":0.00173},{"x":0.4993,"y":0.00143},{"x":0.5228,"y":0.00118},{"x":0.5409,"y":0.000748},{"x":0.5533,"y":0.000511},{"x":0.5728,"y":0.000391},{"x":0.5996,"y":0.000348},{"x":0.6282,"y":0.000277},{"x":0.6501,"y":0.000197},{"x":0.6604,"y":0.000111},{"x":0.665,"y":0.0000558},{"x":0.6694,"y":0.0000242},{"x":0.6727,"y":0.00001}
]},
"mark":{"type":"line","color":"white","strokeWidth":6,"clip":true},
"encoding":{
"x":{"field":"x","type":"quantitative","scale":{"type":"log","domain":[0.1,10]},
 "axis":{"orient":"top","zindex":1,"values":[0.1,0.2,0.3,0.4,0.5,0.6,0.7,0.8,0.9,1,2,3,4,5,6,7,8,9,10],"labels":false,"grid":false,"title":null,"tickSize":-9}},
"y":{"field":"y","type":"quantitative","scale":{"type":"log","domain":[0.00001,0.01]},
 "axis":{"orient":"right","zindex":1,"values":[0.00001,0.00002,0.00003,0.00004,0.00005,0.00006,0.00007,0.00008,0.00009,0.0001,0.0002,0.0003,0.0004,0.0005,0.0006,0.0007,0.0008,0.0009,0.001,0.002,0.003,0.004,0.005,0.006,0.007,0.008,0.009,0.01],"labels":false,"grid":false,"tickSize":-9,
  "title":"minf(hₒᵤₜ(f)/hₙₒₛqz(f))","titleAngle":270,"titleX":163,"titleY":291,"titleAlign":"center","titleBaseline":"alphabetic","titleFontSize":36,"titleFontWeight":"normal"}}
}
}
],
"resolve":{"axis":{"x":"independent","y":"independent"}}
}
